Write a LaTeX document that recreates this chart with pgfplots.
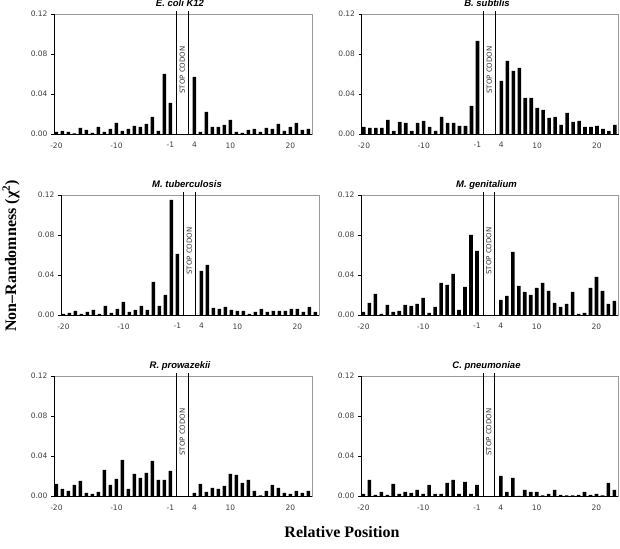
\documentclass[border=0pt]{standalone}
\usepackage{pgfplots}
\pgfplotsset{compat=1.18}
\usepackage{pgfplotstable}
\usepackage{fontspec}
\setmainfont{Liberation Sans}
\newfontfamily\tickfont{DejaVu Sans}
\newfontfamily\labfont{Liberation Serif}

\pgfplotstableread{
pos ecoli bsub mtub mgen rpro cpne
-20 0.002 0.007 0.001 0.003 0.012 0.002
-19 0.003 0.006 0.002 0.012 0.007 0.016
-18 0.002 0.006 0.004 0.021 0.005 0.001
-17 0.0005 0.006 0.001 0.001 0.011 0.004
-16 0.006 0.014 0.003 0.010 0.015 0.001
-15 0.004 0.003 0.005 0.003 0.003 0.012
-14 0.001 0.012 0.001 0.004 0.002 0.002
-13 0.007 0.011 0.009 0.010 0.004 0.004
-12 0.002 0.003 0.002 0.009 0.026 0.003
-11 0.005 0.011 0.006 0.011 0.011 0.006
-10 0.011 0.013 0.013 0.017 0.017 0.002
-9 0.003 0.007 0.003 0.002 0.036 0.011
-8 0.005 0.003 0.005 0.008 0.007 0.002
-7 0.008 0.017 0.009 0.032 0.022 0.002
-6 0.007 0.011 0.005 0.030 0.018 0.013
-5 0.010 0.011 0.033 0.041 0.023 0.016
-4 0.017 0.008 0.009 0.005 0.035 0.002
-3 0.003 0.008 0.020 0.028 0.016 0.014
-2 0.060 0.028 0.115 0.080 0.016 0.002
-1 0.031 0.093 0.061 0.064 0.025 0.011
4 0.057 0.053 0.044 0.015 0.003 0.020
5 0.002 0.073 0.050 0.019 0.012 0.004
6 0.022 0.063 0.007 0.063 0.004 0.018
7 0.007 0.066 0.006 0.029 0.008 0.000
8 0.007 0.036 0.008 0.023 0.007 0.006
9 0.009 0.036 0.005 0.020 0.010 0.004
10 0.014 0.026 0.004 0.027 0.022 0.004
11 0.002 0.024 0.004 0.032 0.021 0.0005
12 0.001 0.016 0.001 0.024 0.013 0.002
13 0.004 0.017 0.003 0.012 0.016 0.006
14 0.005 0.009 0.006 0.008 0.005 0.001
15 0.002 0.021 0.003 0.011 0.0005 0.0005
16 0.006 0.012 0.004 0.023 0.005 0.0005
17 0.005 0.013 0.004 0.001 0.011 0.001
18 0.010 0.007 0.004 0.002 0.008 0.004
19 0.003 0.007 0.006 0.027 0.003 0.001
20 0.007 0.008 0.006 0.038 0.002 0.002
21 0.011 0.005 0.003 0.024 0.005 0.0005
22 0.004 0.003 0.008 0.011 0.003 0.013
23 0.005 0.009 0.003 0.014 0.005 0.006
}\data

\pgfplotsset{
  panel/.style={
    width=258pt, height=120pt, scale only axis,
    anchor=south west,
    xmin=-20.4, xmax=22.6, ymin=0, ymax=0.12,
    ytick={0,0.04,0.08,0.12}, yticklabels={0.00,0.04,0.08,0.12},
    xtick={-20,-10,-1,3,9,19}, xticklabels={-20,-10,-1,4,10,20},
    tick label style={font=\tickfont\fontsize{7.5}{9}\selectfont, text=black!75},
    xticklabel style={yshift=-2pt},
    ytick pos=left, tick align=outside, major tick length=3pt,
    xtick style={draw=none},
    ytick style={black, line width=0.6pt},
    axis line style={draw=black!40, line width=0.6pt},
    clip=false,
    every axis title/.style={at={(0.5,1)}, anchor=base, yshift=7pt, xshift=-3pt,
      font=\bfseries\itshape\fontsize{9.5}{11}\selectfont},
    ybar, bar width=0.6,
  }
}
\newcommand\stopbox{%
  \draw[black, line width=0.9pt] (rel axis cs:0,1) -- (rel axis cs:0,0) -- (rel axis cs:1,0);
  \draw[black, line width=0.8pt] (axis cs:0,0) -- (axis cs:0,0.1225) (axis cs:2,0) -- (axis cs:2,0.1225);
  \node[rotate=90, font=\tickfont\fontsize{7}{8}\selectfont, text=black!80] at (axis cs:1,0.064) {STOP CODON};
}
\newcommand\xmap{\thisrow{pos}<0 ? \thisrow{pos} : \thisrow{pos}-1}

\begin{document}
\begin{tikzpicture}
\path[use as bounding box] (0,0) rectangle (620pt,548pt);

\begin{axis}[panel, at={(54pt,414pt)}, title={E. coli K12}]
\addplot[fill=black, draw=none] table[x expr={\xmap}, y=ecoli] {\data};
\stopbox
\end{axis}

\begin{axis}[panel, at={(361.5pt,414pt)}, width=257pt, title={B. subtilis}]
\addplot[fill=black, draw=none] table[x expr={\xmap}, y=bsub] {\data};
\stopbox
\end{axis}

\begin{axis}[panel, at={(61pt,233pt)}, title={M. tuberculosis}]
\addplot[fill=black, draw=none] table[x expr={\xmap}, y=mtub] {\data};
\stopbox
\end{axis}

\begin{axis}[panel, at={(361pt,233pt)}, width=257pt, title={M. genitalium}]
\addplot[fill=black, draw=none] table[x expr={\xmap}, y=mgen] {\data};
\stopbox
\end{axis}

\begin{axis}[panel, at={(54pt,52pt)}, title={R. prowazekii}]
\addplot[fill=black, draw=none] table[x expr={\xmap}, y=rpro] {\data};
\stopbox
\end{axis}

\begin{axis}[panel, at={(361pt,52pt)}, width=257pt, title={C. pneumoniae}]
\addplot[fill=black, draw=none] table[x expr={\xmap}, y=cpne] {\data};
\stopbox
\end{axis}

\node[rotate=90, font=\labfont\bfseries\fontsize{16}{18}\selectfont] at (11pt,292pt) {Non–Randomness (χ\textsuperscript{2})};
\node[anchor=base, font=\labfont\bfseries\fontsize{16}{18}\selectfont] at (342pt,11pt) {Relative Position};
\end{tikzpicture}
\end{document}
